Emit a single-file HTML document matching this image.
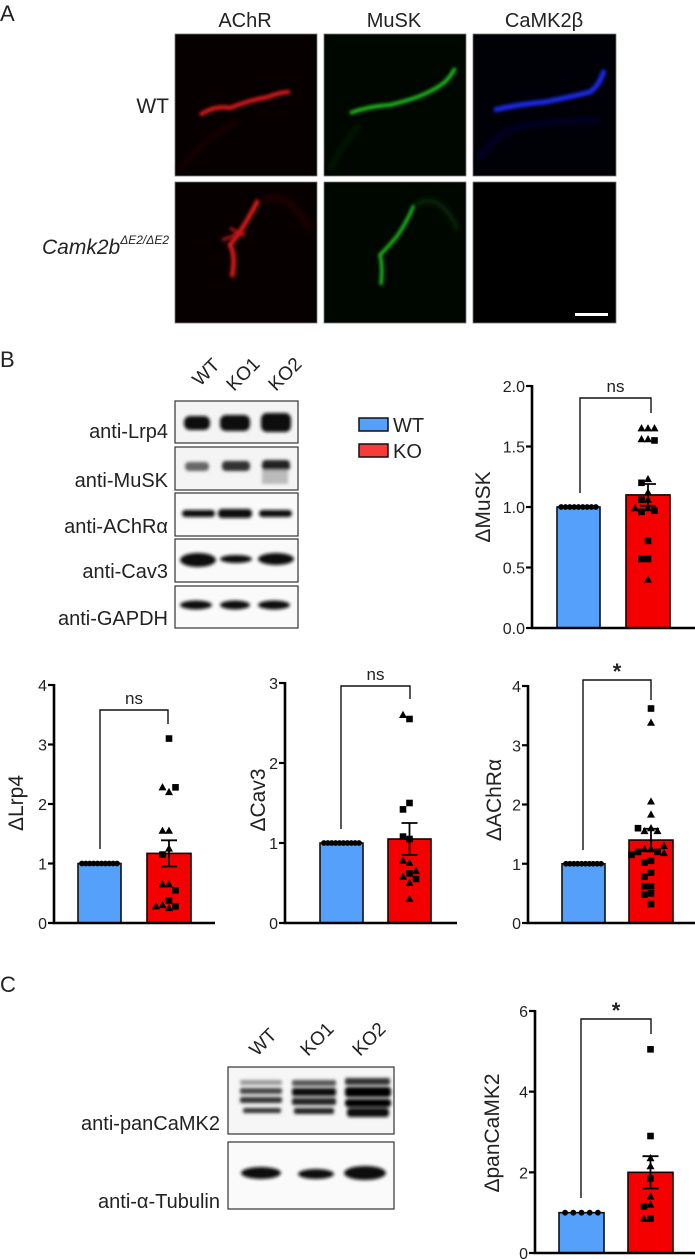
<!DOCTYPE html>
<html><head><meta charset="utf-8"><style>
html,body{margin:0;padding:0;background:#fff;}
svg{display:block;font-family:"Liberation Sans",Arial,sans-serif;}
</style></head><body>
<svg id="fig" width="695" height="1259" viewBox="0 0 695 1259" xmlns="http://www.w3.org/2000/svg">
<defs>
<filter id="b1" x="-50%" y="-50%" width="200%" height="200%"><feGaussianBlur stdDeviation="1.6"/></filter>
<filter id="b2" x="-50%" y="-50%" width="200%" height="200%"><feGaussianBlur stdDeviation="3"/></filter>
<filter id="b05" x="-50%" y="-50%" width="200%" height="200%"><feGaussianBlur stdDeviation="0.8"/></filter>
</defs>
<!-- Panel A -->
<g>
<text x="0" y="21" font-size="22" fill="#222">A</text>
<text x="245" y="27" font-size="20" text-anchor="middle" fill="#222">AChR</text>
<text x="394" y="27" font-size="20" text-anchor="middle" fill="#222">MuSK</text>
<text x="544" y="27" font-size="20" text-anchor="middle" fill="#222">CaMK2β</text>
<text x="169" y="113" font-size="21" text-anchor="end" fill="#222">WT</text>
<text x="169" y="254" font-size="21" text-anchor="end" fill="#222" font-style="italic">Camk2b<tspan font-size="12" dy="-10">ΔE2/ΔE2</tspan></text>
<g><rect x="175" y="34" width="142" height="142" fill="#070000" stroke="#777" stroke-width="0.8"/>
<path d="M200 115 Q215 105 230 108 Q250 100 268 97 Q280 92 290 92" stroke="#e21a1a" stroke-width="4" fill="none" filter="url(#b1)"/>
<path d="M180 170 Q200 140 240 120" stroke="#260303" stroke-width="3" fill="none" filter="url(#b2)"/></g>
<g><rect x="324" y="34" width="142" height="142" fill="#000700" stroke="#777" stroke-width="0.8"/>
<path d="M350 113 Q370 106 390 105 Q410 100 420 96 Q435 90 445 82 Q452 75 455 68" stroke="#22cc22" stroke-width="3.5" fill="none" filter="url(#b1)"/>
<path d="M330 170 Q345 140 360 125" stroke="#072607" stroke-width="3" fill="none" filter="url(#b2)"/></g>
<g><rect x="473" y="34" width="143" height="142" fill="#000007" stroke="#777" stroke-width="0.8"/>
<path d="M494 110 Q520 104 545 102 Q570 97 590 92 Q600 85 604 70" stroke="#1a2aee" stroke-width="5" fill="none" filter="url(#b1)"/>
<path d="M478 160 Q495 130 530 125 Q570 120 600 120" stroke="#080c48" stroke-width="3" fill="none" filter="url(#b2)"/></g>
<g><rect x="175" y="182" width="142" height="141" fill="#070000" stroke="#777" stroke-width="0.8"/>
<path d="M232 277 Q236 255 230 245 Q242 230 250 215 Q256 205 258 200" stroke="#e01a1a" stroke-width="4.5" fill="none" filter="url(#b1)"/>
<path d="M222 240 L245 232 M230 228 L244 236" stroke="#c01515" stroke-width="3" fill="none" filter="url(#b1)"/>
<path d="M262 200 Q290 190 310 230" stroke="#260303" stroke-width="5" fill="none" filter="url(#b2)"/></g>
<g><rect x="324" y="182" width="142" height="141" fill="#000700" stroke="#777" stroke-width="0.8"/>
<path d="M381 285 Q383 265 380 255 Q390 245 398 235 Q408 220 414 205" stroke="#22cc22" stroke-width="3.2" fill="none" filter="url(#b1)"/>
<path d="M415 205 Q440 190 458 230" stroke="#072607" stroke-width="5" fill="none" filter="url(#b2)"/></g>
<g><rect x="473" y="182" width="143" height="141" fill="#000" stroke="#777" stroke-width="0.8"/>
<rect x="575" y="313" width="33" height="3" fill="#fff"/></g>
</g>
<!-- Panel B blots -->
<g>
<text x="0" y="367" font-size="22" fill="#222">B</text>
<text transform="translate(200,387) rotate(-45)" font-size="19" fill="#222">WT</text>
<text transform="translate(234,392) rotate(-45)" font-size="19" fill="#222">KO1</text>
<text transform="translate(276,392) rotate(-45)" font-size="19" fill="#222">KO2</text>
<g><rect x="175" y="401" width="123" height="42" fill="#f4f4f4" stroke="#333" stroke-width="1.2"/>
<g filter="url(#b1)"><rect x="184" y="416" width="26" height="14" rx="6" fill="#111"/><rect x="220" y="415" width="30" height="16" rx="6" fill="#111"/><rect x="261" y="413" width="30" height="19" rx="6" fill="#0a0a0a"/></g></g>
<text x="168" y="438" font-size="20" text-anchor="end" fill="#222">anti-Lrp4</text>
<g><rect x="175" y="447" width="123" height="43" fill="#f4f4f4" stroke="#333" stroke-width="1.2"/>
<g filter="url(#b1)"><rect x="185" y="462" width="24" height="9" rx="4" fill="#666"/><rect x="222" y="461" width="28" height="10" rx="4" fill="#333"/><rect x="262" y="460" width="28" height="11" rx="4" fill="#222"/><rect x="262" y="470" width="26" height="14" fill="#bbb"/></g></g>
<text x="168" y="487" font-size="20" text-anchor="end" fill="#222">anti-MuSK</text>
<g><rect x="175" y="493" width="123" height="43" fill="#fafafa" stroke="#333" stroke-width="1.2"/>
<g filter="url(#b1)"><rect x="182" y="510" width="33" height="7" rx="3.5" fill="#111"/><rect x="218" y="509" width="34" height="9" rx="4" fill="#111"/><rect x="259" y="510" width="33" height="7" rx="3.5" fill="#111"/></g></g>
<text x="168" y="533" font-size="20" text-anchor="end" fill="#222">anti-AChRα</text>
<g><rect x="175" y="539" width="123" height="43" fill="#fafafa" stroke="#333" stroke-width="1.2"/>
<g filter="url(#b1)"><ellipse cx="198" cy="560" rx="18" ry="7" fill="#111"/><ellipse cx="236" cy="559" rx="16" ry="4" fill="#111"/><ellipse cx="276" cy="559" rx="18" ry="6" fill="#111"/></g></g>
<text x="168" y="578" font-size="20" text-anchor="end" fill="#222">anti-Cav3</text>
<g><rect x="175" y="586" width="123" height="42" fill="#fafafa" stroke="#333" stroke-width="1.2"/>
<g filter="url(#b1)"><ellipse cx="196" cy="605" rx="16" ry="4.5" fill="#111"/><ellipse cx="235" cy="605" rx="15" ry="4.5" fill="#111"/><ellipse cx="274" cy="605" rx="16" ry="4.5" fill="#111"/></g></g>
<text x="168" y="625" font-size="20" text-anchor="end" fill="#222">anti-GAPDH</text>
<g>
<rect x="359" y="418" width="29" height="13" fill="#55a0fb" stroke="#111" stroke-width="1.5"/>
<text x="393" y="432" font-size="20" fill="#222">WT</text>
<rect x="359" y="444" width="29" height="13" fill="#f83a3a" stroke="#111" stroke-width="1.5"/>
<text x="393" y="458" font-size="20" fill="#222">KO</text>
</g>
</g>
<!-- Panel C blots -->
<g>
<text x="0" y="992" font-size="22" fill="#222">C</text>
<text transform="translate(257,1057) rotate(-45)" font-size="19" fill="#222">WT</text>
<text transform="translate(308,1057) rotate(-45)" font-size="19" fill="#222">KO1</text>
<text transform="translate(360,1057) rotate(-45)" font-size="19" fill="#222">KO2</text>
<g><rect x="228" y="1067" width="166" height="67" fill="#f6f6f6" stroke="#333" stroke-width="1.2"/>
<g filter="url(#b1)"><rect x="240" y="1080" width="42" height="5" rx="2" fill="#999"/><rect x="240" y="1088" width="42" height="6" rx="2" fill="#444"/><rect x="240" y="1097" width="42" height="6" rx="2" fill="#333"/><rect x="243" y="1108" width="38" height="5" rx="2" fill="#333"/>
<rect x="292" y="1080" width="44" height="6" rx="2" fill="#555"/><rect x="292" y="1088" width="44" height="8" rx="2" fill="#111"/><rect x="292" y="1098" width="44" height="7" rx="2" fill="#222"/><rect x="294" y="1108" width="40" height="6" rx="2" fill="#222"/>
<rect x="345" y="1078" width="45" height="7" rx="2" fill="#333"/><rect x="345" y="1087" width="46" height="10" rx="3" fill="#000"/><rect x="345" y="1099" width="46" height="8" rx="3" fill="#000"/><rect x="347" y="1108" width="42" height="9" rx="3" fill="#111"/></g></g>
<text x="220" y="1130" font-size="20" text-anchor="end" fill="#222">anti-panCaMK2</text>
<g><rect x="228" y="1142" width="166" height="67" fill="#fafafa" stroke="#333" stroke-width="1.2"/>
<g filter="url(#b1)"><ellipse cx="261" cy="1173" rx="20" ry="6" fill="#111"/><ellipse cx="316" cy="1174" rx="18" ry="5" fill="#111"/><ellipse cx="365" cy="1173" rx="21" ry="7" fill="#111"/></g></g>
<text x="220" y="1208" font-size="20" text-anchor="end" fill="#222">anti-α-Tubulin</text>
</g>
<g id="charts"></g>
</svg>
<script>
// ---- Chart data ----
const muskTicks = [0, 0.5, 1, 1.5, 2];
const muskTickLabels = ['0.0', '0.5', '1.0', '1.5', '2.0'];
const muskWT = [1, 1, 1, 1, 1, 1, 1, 1, 1];
const muskKO = [1.65, 1.65, 1.65, 1.56, 1.56, 1.55, 1.23, 1.2, 1.12, 1.06, 1.06, 0.99, 0.96, 0.97, 0.99, 0.72, 0.57, 0.57, 0.40];
const muskShape = ['t','t','t','t','t','s','t','s','t','t','s','t','s','s','t','s','s','s','t'];
const muskMean = [1.0, 1.1];
const muskSem = [0, 0.09];

const lrp4Ticks = [0, 1, 2, 3, 4];
const lrp4TickLabels = ['0', '1', '2', '3', '4'];
const lrp4WT = [1, 1, 1, 1, 1, 1, 1, 1, 1, 1];
const lrp4KO = [3.1, 2.2, 2.28, 2.28, 1.55, 1.55, 1.25, 1.15, 0.65, 0.65, 0.55, 0.38, 0.3, 0.28, 0.28, 0.25];
const lrp4Shape = ['s','t','t','s','t','t','t','s','t','t','s','s','t','s','t','t'];
const lrp4Mean = [1.0, 1.17];
const lrp4Sem = [0, 0.22];

const cav3Ticks = [0, 1, 2, 3];
const cav3TickLabels = ['0', '1', '2', '3'];
const cav3WT = [1, 1, 1, 1, 1, 1, 1, 1, 1, 1];
const cav3KO = [2.55, 2.6, 1.5, 1.42, 1.05, 1.08, 0.75, 0.78, 0.62, 0.58, 0.65, 0.55, 0.5, 0.3];
const cav3Shape = ['s','t','s','s','s','s','t','t','s','t','t','s','t','t'];
const cav3Mean = [1.0, 1.05];
const cav3Sem = [0, 0.2];

const achrTicks = [0, 1, 2, 3, 4];
const achrTickLabels = ['0', '1', '2', '3', '4'];
const achrWT = [1, 1, 1, 1, 1, 1, 1, 1, 1, 1];
const achrKO = [3.62, 3.38, 2.05, 1.83, 1.6, 1.55, 1.55, 1.6, 1.25, 1.25, 1.2, 1.2, 1.05, 1.02, 0.85, 0.78, 0.62, 0.62, 0.5, 0.48, 0.32, 1.3, 1.18, 1.15];
const achrShape = ['s','t','t','t','t','t','t','s','t','t','s','s','s','s','s','s','s','s','s','s','s','t','t','s'];
const achrMean = [1.0, 1.4];
const achrSem = [0, 0.19];

const camkTicks = [0, 2, 4, 6];
const camkTickLabels = ['0', '2', '4', '6'];
const camkWT = [1, 1, 1, 1, 1];
const camkKO = [5.05, 2.9, 2.35, 2.15, 1.85, 1.4, 1.2, 1.15, 0.85, 0.85];
const camkShape = ['s','s','t','t','s','t','t','s','s','t'];
const camkMean = [1.0, 2.0];
const camkSem = [0, 0.4];

// ---- Rendering ----
const NS = 'http://www.w3.org/2000/svg';
const root = document.getElementById('charts');
function mk(tag, parent) { const e = document.createElementNS(NS, tag); parent.appendChild(e); return e; }

function drawChart(id, L, ticks, tickLabels, wt, ko, shape, means, sems, sig, ylabel) {
  const g = mk('g', root);
  
  
  const maxT = ticks[ticks.length - 1];
  const y = v => L.y0 - v / maxT * (L.y0 - L.yTop);
  const bars = [[L.wtL, L.wtR, '#55a0fb', '#111'], [L.koL, L.koR, '#f40000', '#1a0000']];
  bars.forEach((b, i) => {
    const r = mk('rect', g);
    
    
    r.setAttribute('x', b[0]); r.setAttribute('width', b[1] - b[0]);
    r.setAttribute('y', y(means[i])); r.setAttribute('height', L.y0 - y(means[i]));
    r.setAttribute('fill', b[2]); r.setAttribute('stroke', b[3]); r.setAttribute('stroke-width', '1.6');
  });
  wt.forEach((v, i) => {
    const c = mk('circle', g);
    
    
    const w = L.wtR - L.wtL;
    c.setAttribute('cx', L.wtL + 2 + (i + 0.5) * (w - 4) / wt.length);
    c.setAttribute('cy', y(v)); c.setAttribute('r', 2.9); c.setAttribute('fill', '#000');
  });
  const placed = [];
  const cx = (L.koL + L.koR) / 2;
  ko.forEach((v, i) => {
    const py = y(v);
    let px = cx;
    for (let k = 0; k < 12; k++) {
      const off = (k === 0 ? 0 : Math.ceil(k / 2) * 6.5 * (k % 2 ? -1 : 1));
      const tx = cx + off;
      if (!placed.some(p => Math.abs(p[0] - tx) < 6.5 && Math.abs(p[1] - py) < 6.5)) { px = Math.max(L.koL - 3, Math.min(L.koR + 3, tx)); break; }
    }
    placed.push([px, py]);
    let m;
    if (shape[i] === 's') {
      m = mk('rect', g);
      m.setAttribute('x', px - 3.3); m.setAttribute('y', py - 3.3); m.setAttribute('width', 6.6); m.setAttribute('height', 6.6);
    } else {
      m = mk('polygon', g);
      m.setAttribute('points', `${px},${py - 4.2} ${px - 4},${py + 3} ${px + 4},${py + 3}`);
    }
    
    
    m.setAttribute('fill', '#000');
  });
  const eb = mk('path', g);
  
  
  const hi = y(means[1] + sems[1]), lo = y(means[1] - sems[1]);
  eb.setAttribute('d', `M${cx},${hi} V${lo} M${cx - 8},${hi} H${cx + 8} M${cx - 8},${lo} H${cx + 8}`);
  eb.setAttribute('stroke', '#000'); eb.setAttribute('stroke-width', '1.8'); eb.setAttribute('fill', 'none');
  const ax = mk('path', g);
  
  
  ax.setAttribute('d', `M${L.ax},${L.yTop - 1} V${L.y0} H${L.xEnd}`);
  ax.setAttribute('stroke', '#000'); ax.setAttribute('stroke-width', '2.6'); ax.setAttribute('fill', 'none');
  ticks.forEach((t, i) => {
    const tk = mk('line', g);
    
    
    tk.setAttribute('x1', L.ax - 6); tk.setAttribute('x2', L.ax); tk.setAttribute('y1', y(t)); tk.setAttribute('y2', y(t));
    tk.setAttribute('stroke', '#000'); tk.setAttribute('stroke-width', '2.2');
    const tl = mk('text', g);
    
    
    tl.setAttribute('x', L.ax - 7); tl.setAttribute('y', y(t) + 6);
    tl.setAttribute('text-anchor', 'end'); tl.setAttribute('font-size', '16'); tl.setAttribute('fill', '#222');
    tl.textContent = tickLabels[i];
  });
  const yl = mk('text', g);
  
  
  yl.setAttribute('transform', `translate(${L.lblX},${L.lblY}) rotate(-90)`);
  yl.setAttribute('text-anchor', 'middle'); yl.setAttribute('font-size', '21'); yl.setAttribute('fill', '#222');
  yl.textContent = ylabel;
  const br = mk('path', g);
  
  
  br.setAttribute('d', `M${L.brL},${L.brLDown} V${L.brTop} H${L.brR} V${L.brRDown}`);
  br.setAttribute('stroke', '#111'); br.setAttribute('stroke-width', '1.4'); br.setAttribute('fill', 'none');
  const st = mk('text', g);
  
  
  st.setAttribute('x', (L.brL + L.brR) / 2); st.setAttribute('y', sig === '*' ? L.brTop - 1 : L.brTop - 6);
  st.setAttribute('text-anchor', 'middle'); st.setAttribute('font-size', sig === '*' ? '22' : '17');
  if (sig === '*') st.setAttribute('font-weight', 'bold');
  st.setAttribute('fill', '#222');
  st.textContent = sig;
}

drawChart('musk', {ax:532, y0:628, yTop:386, xEnd:695, wtL:557, wtR:600, koL:626, koR:670, lblX:490, lblY:507, brL:580, brTop:398, brR:651, brLDown:493, brRDown:413},
  muskTicks, muskTickLabels, muskWT, muskKO, muskShape, muskMean, muskSem, 'ns', 'ΔMuSK');
drawChart('lrp4', {ax:54, y0:923, yTop:685, xEnd:215, wtL:78, wtR:121, koL:147, koR:191, lblX:23, lblY:803, brL:100, brTop:710, brR:168, brLDown:849, brRDown:724},
  lrp4Ticks, lrp4TickLabels, lrp4WT, lrp4KO, lrp4Shape, lrp4Mean, lrp4Sem, 'ns', 'ΔLrp4');
drawChart('cav3', {ax:285, y0:923, yTop:683, xEnd:457, wtL:320, wtR:363, koL:388, koR:431, lblX:265, lblY:800, brL:341, brTop:686, brR:410, brLDown:829, brRDown:699},
  cav3Ticks, cav3TickLabels, cav3WT, cav3KO, cav3Shape, cav3Mean, cav3Sem, 'ns', 'ΔCav3');
drawChart('achr', {ax:528, y0:923, yTop:686, xEnd:695, wtL:562, wtR:605, koL:629, koR:673, lblX:501, lblY:800, brL:583, brTop:680, brR:651, brLDown:850, brRDown:700},
  achrTicks, achrTickLabels, achrWT, achrKO, achrShape, achrMean, achrSem, '*', 'ΔAChRα');
drawChart('pancamk2', {ax:535, y0:1253, yTop:1011, xEnd:695, wtL:559, wtR:604, koL:628, koR:673, lblX:499, lblY:1133, brL:581, brTop:1019, brR:651, brLDown:1198, brRDown:1034},
  camkTicks, camkTickLabels, camkWT, camkKO, camkShape, camkMean, camkSem, '*', 'ΔpanCaMK2');
</script>
</body></html>
